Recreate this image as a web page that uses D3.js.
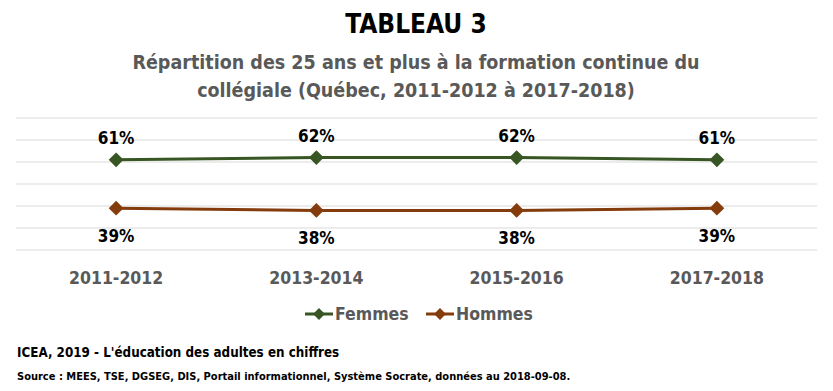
<!DOCTYPE html>
<html lang="fr">
<head>
    <meta charset="UTF-8">
    <title>Tableau 3</title>
    <script src="https://d3js.org/d3.v7.min.js"></script>
    <style>
        body { margin: 0; background: #fff; }
        svg text { font-family: "DejaVu Sans Condensed", sans-serif; font-weight: bold; }
    </style>
</head>
<body>
    <svg width="833" height="391"></svg>
    <script>
        const periods = ['2011-2012', '2013-2014', '2015-2016', '2017-2018'];
        const femmes = [0.61, 0.62, 0.62, 0.61];
        const hommes = [0.39, 0.38, 0.38, 0.39];
        const gridTicks = [0.2, 0.3, 0.4, 0.5, 0.6, 0.7, 0.8];

        const series = [
            { name: 'Femmes', values: femmes, color: '#375623', above: true },
            { name: 'Hommes', values: hommes, color: '#843c0c', above: false }
        ];

        const svg = d3.select('svg');
        svg.append('rect').attr('width', 833).attr('height', 391).attr('fill', '#fff');

        const x = d3.scaleBand().domain(periods).range([16, 817]);
        const y = d3.scaleLinear().domain([0.2, 0.8]).range([250, 118]);
        const cx = d => x(d) + x.bandwidth() / 2;

        // titles
        svg.append('text').attr('x', 416).attr('y', 33).attr('text-anchor', 'middle')
            .attr('font-size', 26).attr('fill', '#000').text('TABLEAU 3');
        const sub = ['Répartition des 25 ans et plus à la formation continue du',
                     'collégiale (Québec, 2011-2012 à 2017-2018)'];
        svg.selectAll('.sub').data(sub).enter().append('text')
            .attr('x', 416).attr('y', (d, i) => 69 + i * 28)
            .attr('text-anchor', 'middle').attr('font-size', 19.5).attr('fill', '#595959')
            .text(d => d);

        // gridlines
        svg.append('g').selectAll('line').data(gridTicks).enter().append('line')
            .attr('x1', 16).attr('x2', 817)
            .attr('y1', d => y(d)).attr('y2', d => y(d))
            .attr('stroke', '#d9d9d9').attr('stroke-width', 1);

        // x axis labels
        const xAxis = svg.append('g').attr('transform', 'translate(0,250)')
            .call(d3.axisBottom(x).tickSize(0).tickPadding(22));
        xAxis.select('.domain').remove();
        xAxis.selectAll('text').attr('font-size', 17.5).attr('fill', '#595959')
            .attr('font-family', null).attr('font-weight', null);

        const line = d3.line().x((d, i) => cx(periods[i])).y(d => y(d));
        const diamond = d3.symbol(d3.symbolSquare, 110);

        series.forEach(s => {
            const g = svg.append('g');
            g.append('path').datum(s.values).attr('d', line)
                .attr('fill', 'none').attr('stroke', s.color).attr('stroke-width', 3);
            g.selectAll('.pt').data(s.values).enter().append('path')
                .attr('d', diamond)
                .attr('transform', (d, i) => `translate(${cx(periods[i])},${y(d)}) rotate(45)`)
                .attr('fill', s.color);
            g.selectAll('.lbl').data(s.values).enter().append('text')
                .attr('x', (d, i) => cx(periods[i]))
                .attr('y', d => s.above ? y(d) - 16 : y(d) + 34)
                .attr('text-anchor', 'middle').attr('font-size', 17).attr('fill', '#000')
                .text(d => Math.round(d * 100) + '%');
        });

        // legend
        const legend = svg.append('g').attr('transform', 'translate(305,314)');
        const items = legend.selectAll('g').data(series).enter().append('g')
            .attr('transform', (d, i) => `translate(${i * 121},0)`);
        items.append('line').attr('x1', 0).attr('x2', 28)
            .attr('stroke', d => d.color).attr('stroke-width', 3);
        items.append('path').attr('d', d3.symbol(d3.symbolSquare, 70))
            .attr('transform', 'translate(14,0) rotate(45)').attr('fill', d => d.color);
        items.append('text').attr('x', 30).attr('y', 6).attr('font-size', 17.5)
            .attr('fill', '#595959').text(d => d.name);

        // footer
        svg.append('text').attr('x', 17).attr('y', 357).attr('font-size', 13.3).attr('fill', '#000')
            .text("ICEA, 2019 - L'éducation des adultes en chiffres");
        svg.append('text').attr('x', 17).attr('y', 380).attr('font-size', 11).attr('fill', '#000')
            .text('Source : MEES,  TSE, DGSEG, DIS, Portail informationnel,  Système Socrate, données au 2018-09-08.');
    </script>
</body>
</html>
